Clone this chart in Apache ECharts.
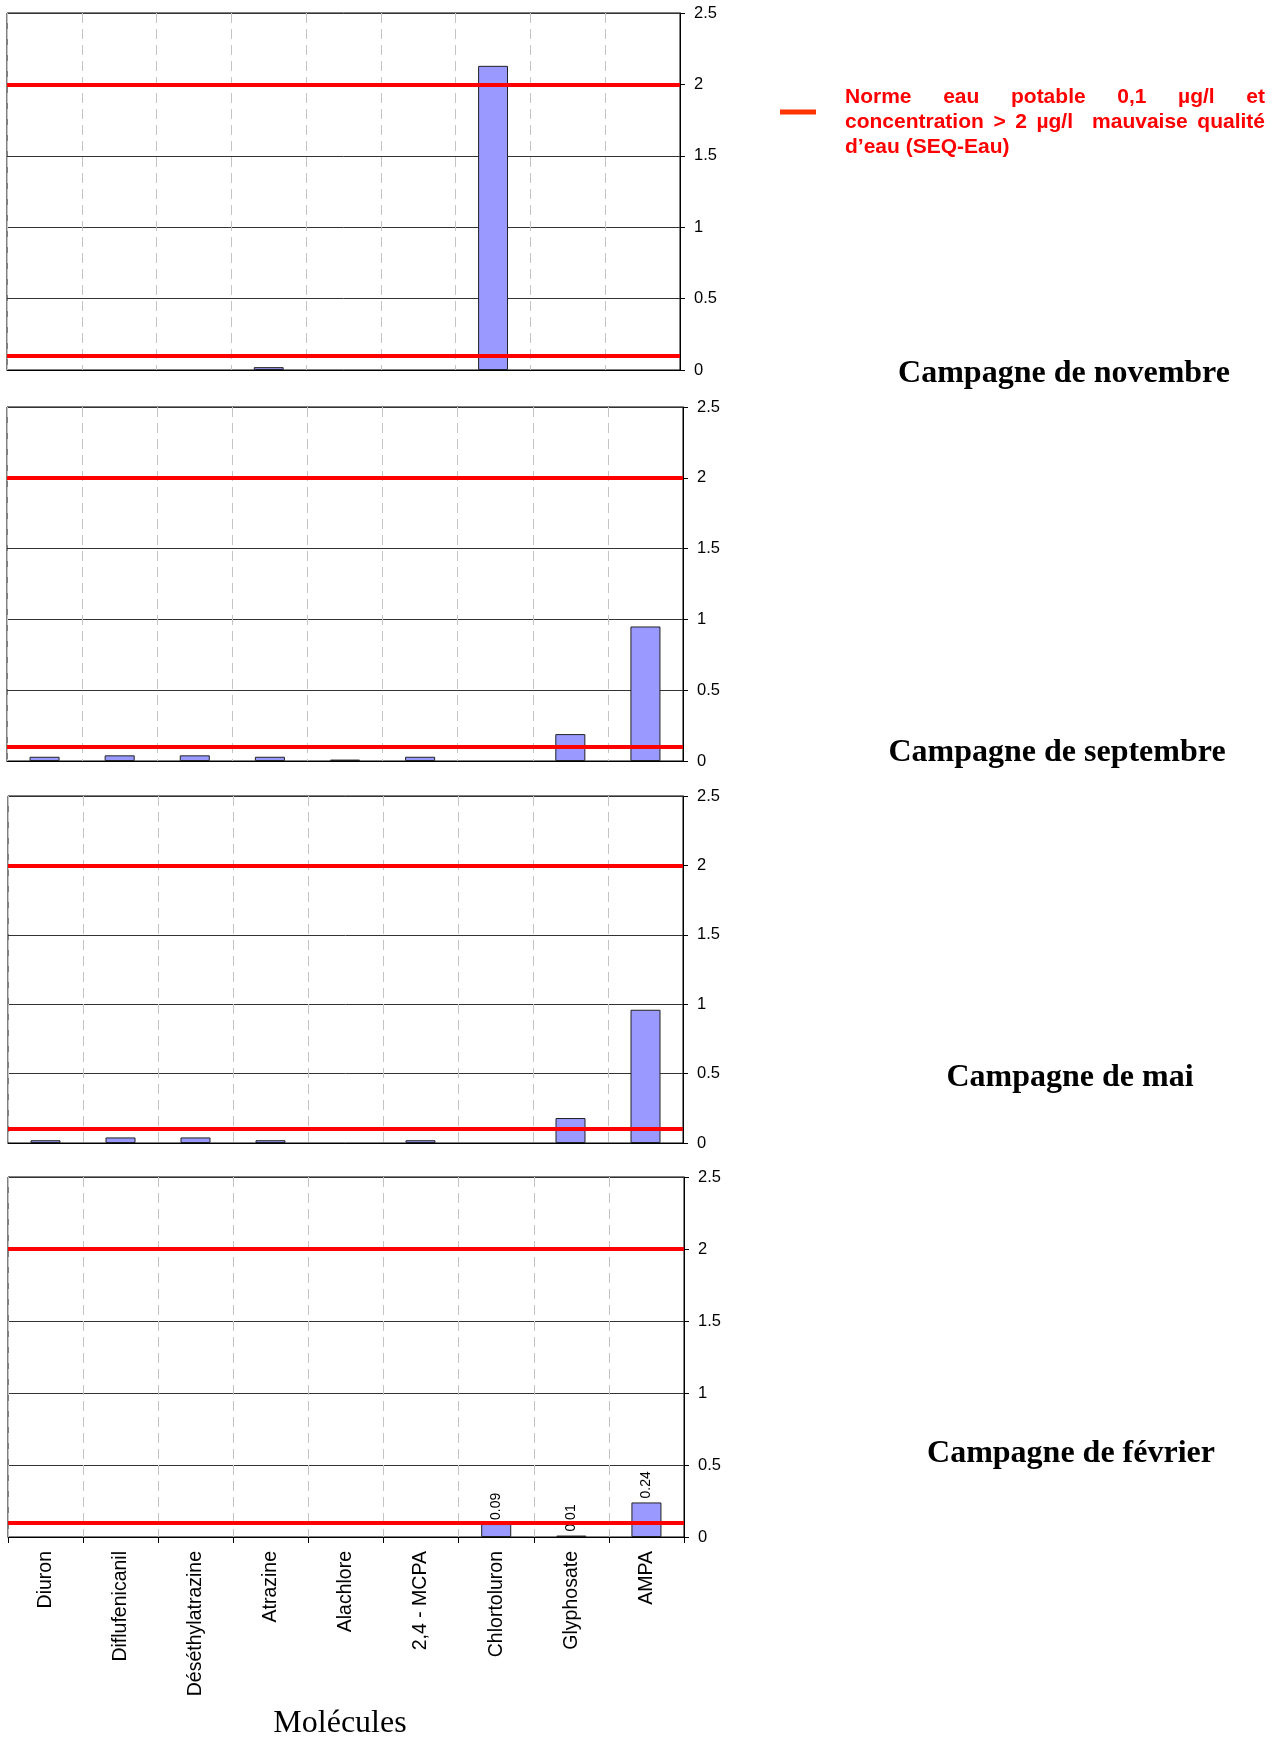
<!DOCTYPE html>
<html lang="fr">
<head>
<meta charset="utf-8">
<title>Molécules détectées par campagne</title>
<script src="https://cdn.jsdelivr.net/npm/echarts@6/dist/echarts.min.js"></script>
<style>
  html, body { margin: 0; padding: 0; background: #ffffff; }
  #chart { width: 1279px; height: 1738px; }
</style>
</head>
<body>
<div id="chart"></div>
<script>
// Molécules analysées (axe des catégories, commun aux quatre campagnes)
const CATEGORIES = ['Diuron', 'Diflufenicanil', 'Déséthylatrazine', 'Atrazine', 'Alachlore',
                    '2,4 - MCPA', 'Chlortoluron', 'Glyphosate', 'AMPA'];

// Concentrations mesurées (µg/l) ; null = non détecté
const NOVEMBRE  = [null, null, null, 0.02, null, null, 2.13, null, null];
const SEPTEMBRE = [0.03, 0.04, 0.04, 0.03, 0.01, 0.03, null, 0.19, 0.95];
const MAI       = [0.02, 0.04, 0.04, 0.02, null, 0.02, null, 0.18, 0.96];
const FEVRIER   = [null, null, null, null, null, null, 0.09, 0.01, 0.24];

// Seuils : norme eau potable et seuil de mauvaise qualité (SEQ-Eau)
const SEUILS = [0.1, 2];

// Graduations de l'axe des concentrations
const Y_TICKS = [0, 0.5, 1, 1.5, 2, 2.5];

const CAMPAGNES = ['Campagne de novembre', 'Campagne de septembre', 'Campagne de mai', 'Campagne de février'];
const LEGENDE = ['Norme eau potable 0,1 µg/l et',
                 'concentration > 2 µg/l  mauvaise qualité',
                 'd\u2019eau (SEQ-Eau)'];
const AXIS_TITLE = 'Molécules';

const SANS = '"Liberation Sans", Arial, sans-serif';
const SERIF = '"Liberation Serif", "Times New Roman", serif';

const panels = [
  { data: NOVEMBRE,  grid: { left: 7, right: 599, top: 13, height: 357 },   titleY: 374 },
  { data: SEPTEMBRE, grid: { left: 7, right: 596, top: 407, height: 354 },  titleY: 753 },
  { data: MAI,       grid: { left: 8, right: 596, top: 796, height: 347 },  titleY: 1078 },
  { data: FEVRIER,   grid: { left: 8, right: 595, top: 1177, height: 360 }, titleY: 1454, last: true }
];
const titleX = [1064, 1057, 1070, 1071];

const grids = [], xAxes = [], yAxes = [], series = [];
panels.forEach((p, i) => {
  grids.push(Object.assign({ show: true, borderColor: '#000', borderWidth: 1, backgroundColor: 'transparent' }, p.grid));
  xAxes.push({
    type: 'category', gridIndex: i, data: CATEGORIES, boundaryGap: true,
    axisLine: { show: true, lineStyle: { color: '#000', width: 1 } },
    axisTick: { show: !!p.last, length: 6, interval: 0, lineStyle: { color: '#000' } },
    axisLabel: p.last ? {
      show: true, interval: 0, rotate: 90, margin: 14,
      fontFamily: SANS, fontSize: 19.5, color: '#000'
    } : { show: false },
    splitLine: { show: true, interval: 0, lineStyle: { color: '#c4c4c4', width: 1, type: [10, 6] } }
  });
  yAxes.push({
    type: 'value', gridIndex: i, position: 'right',
    min: Y_TICKS[0], max: Y_TICKS[Y_TICKS.length - 1], interval: Y_TICKS[1] - Y_TICKS[0],
    axisLine: { show: true, lineStyle: { color: '#000', width: 1 } },
    axisTick: { show: true, inside: false, length: 5, lineStyle: { color: '#000' } },
    axisLabel: { show: true, margin: 14, fontFamily: SANS, fontSize: 16.5, color: '#000' },
    splitLine: { show: true, lineStyle: { color: '#333', width: 1 } }
  });
  series.push({
    type: 'bar', xAxisIndex: i, yAxisIndex: i, data: p.data, barWidth: '40%',
    itemStyle: { color: '#9999ff', borderColor: '#222', borderWidth: 1 },
    label: p.last ? {
      show: true, position: 'top', rotate: 90, align: 'left', verticalAlign: 'middle',
      distance: 4, fontFamily: SANS, fontSize: 14, color: '#000',
      formatter: (q) => (q.value == null ? '' : String(q.value))
    } : { show: false },
    markLine: {
      silent: true, symbol: 'none', z: 5,
      label: { show: false },
      lineStyle: { color: '#ff0000', width: 4, type: 'solid' },
      data: SEUILS.map((v) => ({ yAxis: v }))
    }
  });
});

// Texte justifié de la légende
const measureCtx = document.createElement('canvas').getContext('2d');
const legendFont = 'bold 21px ' + SANS;
measureCtx.font = legendFont;
const LEG_LEFT = 845, LEG_RIGHT = 1265, LEG_Y = [97, 122, 147];
const graphic = [];
graphic.push({
  type: 'line', shape: { x1: 780, y1: 112, x2: 816, y2: 112 },
  style: { stroke: '#ff3300', lineWidth: 5 }
});
LEGENDE.forEach((line, li) => {
  if (li === LEGENDE.length - 1) {
    graphic.push({ type: 'text', x: LEG_LEFT, y: LEG_Y[li],
      style: { text: line, font: legendFont, fill: '#ff0000', textVerticalAlign: 'middle', textAlign: 'left' } });
    return;
  }
  const tokens = line.split(' ');
  const widths = tokens.map((t) => measureCtx.measureText(t).width);
  const total = widths.reduce((a, b) => a + b, 0);
  const gap = (LEG_RIGHT - LEG_LEFT - total) / (tokens.length - 1);
  let x = LEG_LEFT;
  tokens.forEach((t, k) => {
    if (t) {
      graphic.push({ type: 'text', x: x, y: LEG_Y[li],
        style: { text: t, font: legendFont, fill: '#ff0000', textVerticalAlign: 'middle', textAlign: 'left' } });
    }
    x += widths[k] + gap;
  });
});

// Titres de campagne
CAMPAGNES.forEach((t, i) => {
  graphic.push({ type: 'text', x: titleX[i], y: panels[i].titleY,
    style: { text: t, font: 'bold 32px ' + SERIF, fill: '#000', textAlign: 'center', textVerticalAlign: 'middle' } });
});

// Titre de l'axe des catégories
graphic.push({ type: 'text', x: 340, y: 1724,
  style: { text: AXIS_TITLE, font: '32px ' + SERIF, fill: '#000', textAlign: 'center', textVerticalAlign: 'middle' } });

const chart = echarts.init(document.getElementById('chart'), null, { renderer: 'canvas' });
chart.setOption({
  animation: false,
  backgroundColor: '#ffffff',
  grid: grids,
  xAxis: xAxes,
  yAxis: yAxes,
  series: series,
  graphic: graphic
});
</script>
</body>
</html>
